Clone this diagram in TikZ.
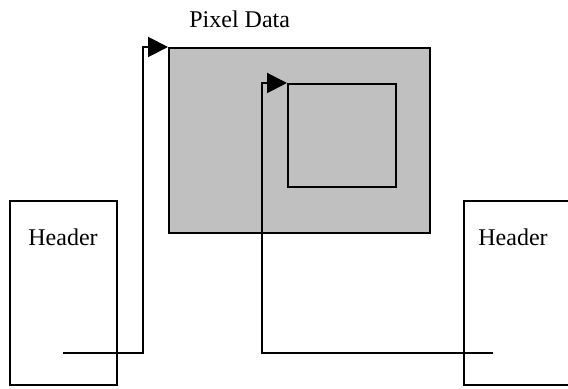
\documentclass[tikz,border=0pt]{standalone}
\usepackage{fontspec}
\setmainfont{Liberation Serif}
\usepackage{xcolor}
\usetikzlibrary{arrows.meta}

\definecolor{pixgray}{RGB}{192,192,192}

\begin{document}
\begin{tikzpicture}[x=0.5pt, y=-0.5pt, font=\fontsize{12}{14}\selectfont]
            \tikzstyle{frame} = [rectangle, draw, line width=1pt, inner sep=0pt, anchor=north west]
            \tikzstyle{caption} = [inner sep=0pt, anchor=base west]
            \tikzstyle{flow} = [line width=1pt, -{Triangle[length=10pt, width=10pt]}]

            \clip (0,0) rectangle (568,389);

            % image area and the region inside it
            \node [frame, fill=pixgray, minimum width=130.5pt, minimum height=92.5pt] (pix) at (168,47) {};
            \node [frame, minimum width=54pt, minimum height=51.5pt] (roi) at (287,83) {};
            \node [caption] (pixlabel) at (189,28) {Pixel Data};

            % the two headers
            \node [frame, minimum width=53.5pt, minimum height=92pt] (hdrL) at (9,200) {};
            \node [frame, minimum width=60pt, minimum height=92pt] (hdrR) at (463,200) {};
            \node [caption] (hdrLlabel) at (28,246) {Header};
            \node [caption] (hdrRlabel) at (478,246) {Header};

            \coordinate (startL) at (63,353);
            \coordinate (startR) at (493,353);

            \draw [flow] (startL) -- ++(80,0) |- (pix.north west);
            \draw [flow] (startR) -- ++(-231,0) |- (roi.north west);
        \end{tikzpicture}
\end{document}
